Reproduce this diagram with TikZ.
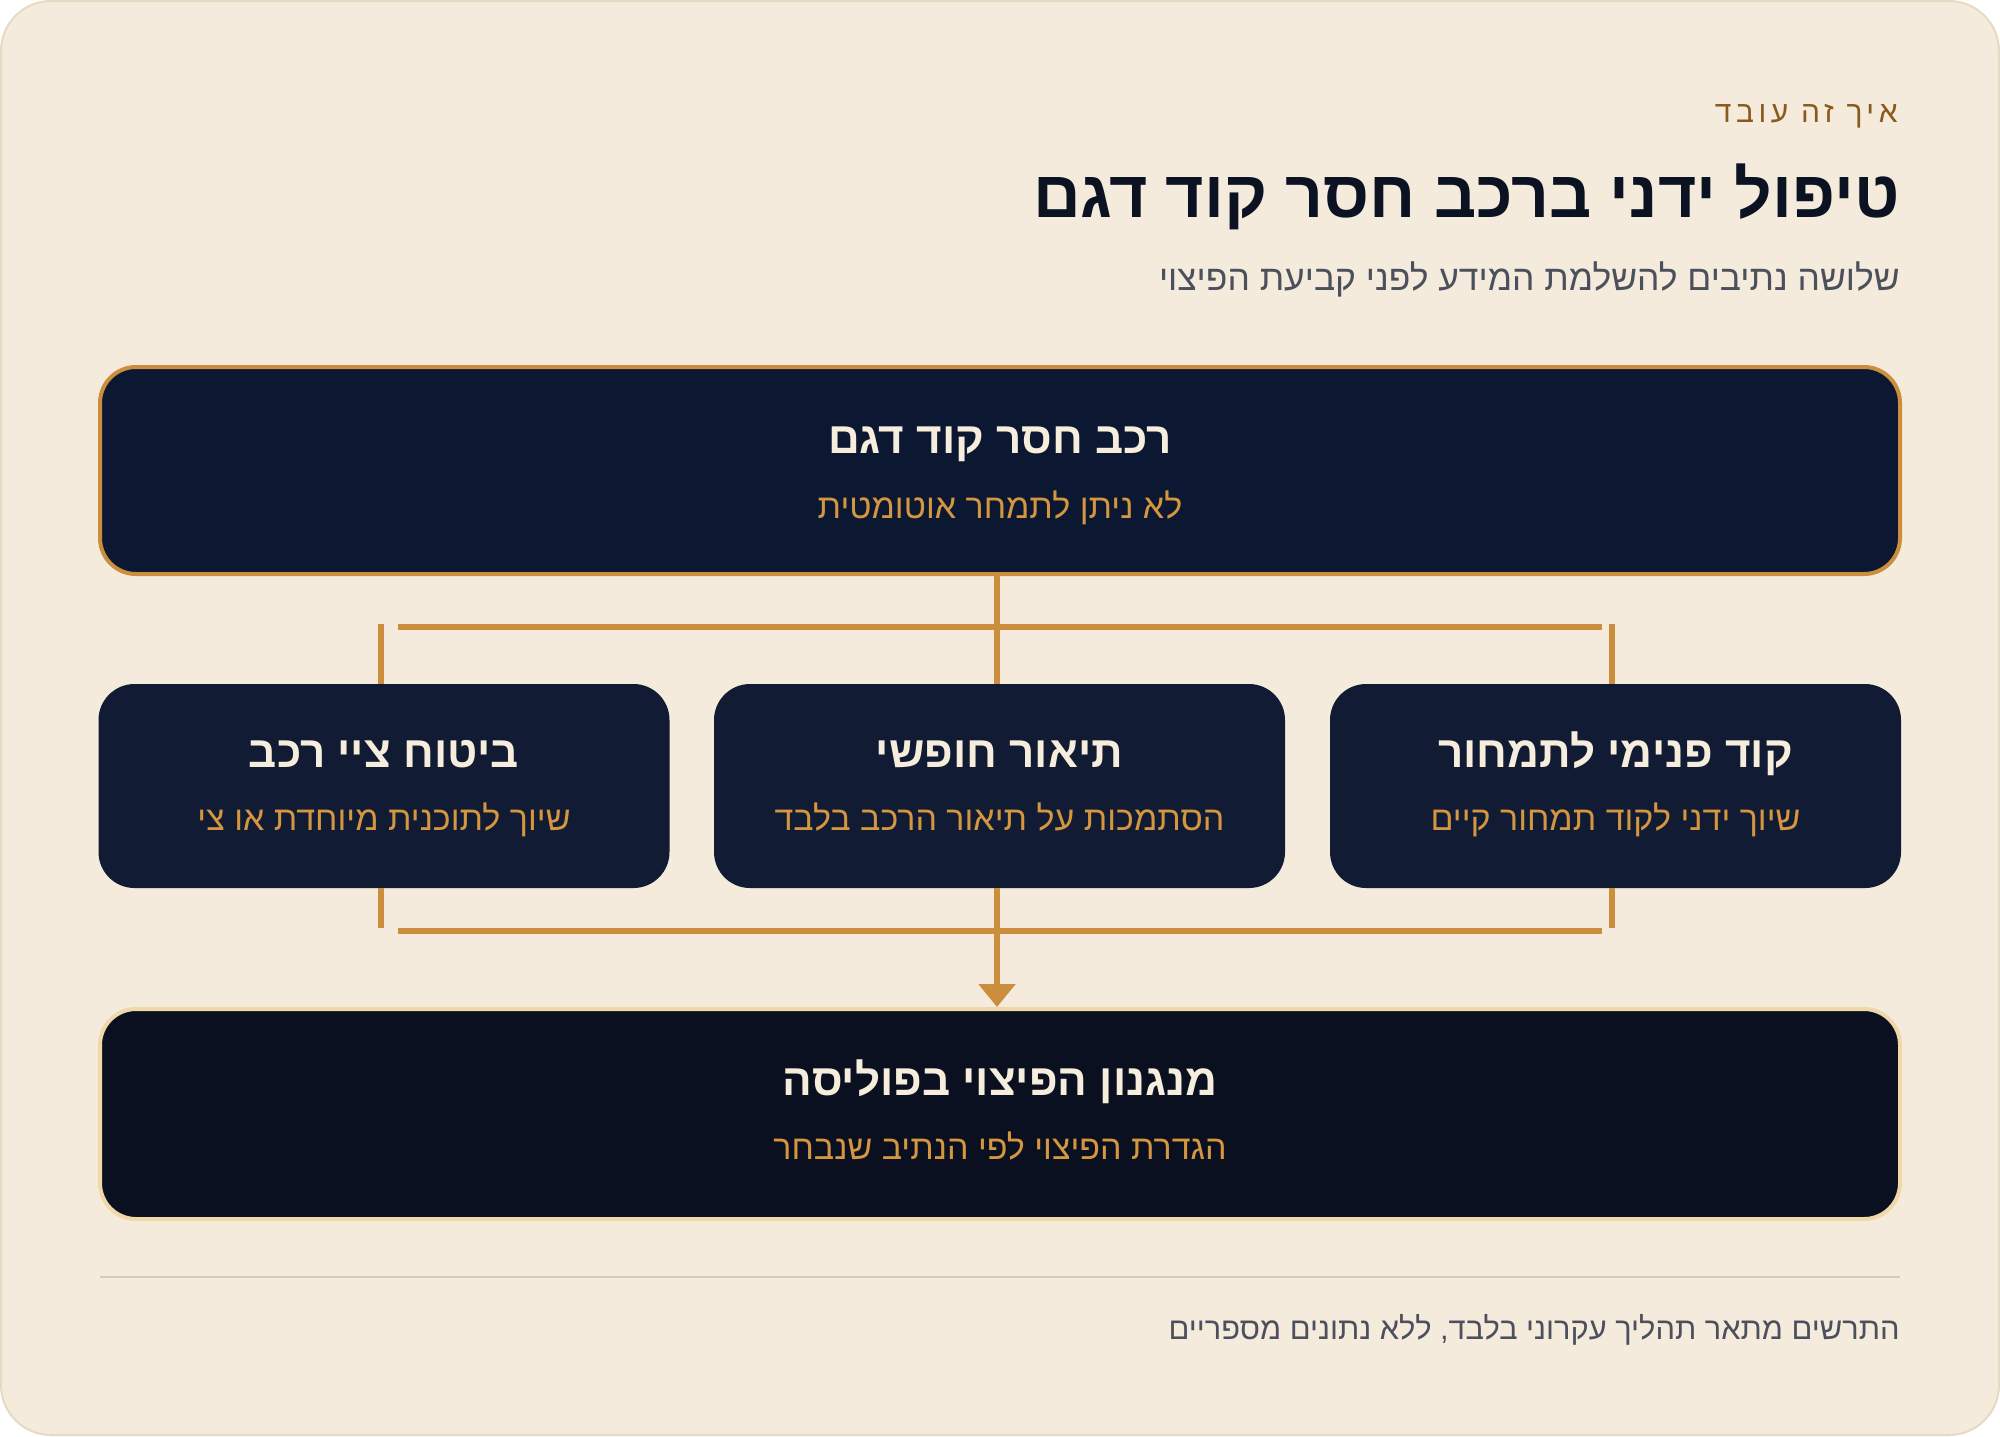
\documentclass[tikz,border=0pt]{standalone}
\usepackage{fontspec}
\setmainfont{Liberation Sans}
\newfontfamily\heb[Script=Hebrew]{Liberation Sans}
\newfontfamily\hebsp[Script=Hebrew,LetterSpace=15]{Liberation Sans}
\TeXXeTstate=1
\usetikzlibrary{arrows.meta}
\definecolor{cardbg}{HTML}{F4EBDC}
\definecolor{cardline}{HTML}{E6DAC3}
\definecolor{ink}{HTML}{0B1222}
\definecolor{eyebrow}{HTML}{8A5A1C}
\definecolor{muted}{HTML}{4B505C}
\definecolor{topfill}{HTML}{0C1731}
\definecolor{midfill}{HTML}{111B33}
\definecolor{botfill}{HTML}{0A1020}
\definecolor{goldline}{HTML}{CB8E3C}
\definecolor{paleline}{HTML}{F0D8A8}
\definecolor{cream}{HTML}{F6EDDC}
\definecolor{goldtext}{HTML}{D4963F}
\definecolor{sepline}{HTML}{D5CCBE}
\tikzset{
  boxbase/.style={inner sep=0pt, rounded corners=18pt},
  topbox/.style={boxbase, fill=topfill, draw=goldline, line width=2pt, minimum width=900pt, minimum height=103.5pt},
  midbox/.style={boxbase, fill=midfill, minimum width=285.5pt, minimum height=102pt},
  botbox/.style={boxbase, fill=botfill, draw=paleline, line width=2pt, minimum width=900pt, minimum height=105pt},
  boxtitle/.style={anchor=base, inner sep=0pt, text=cream, font=\heb\bfseries\fontsize{22}{26}\selectfont},
  boxsub/.style={anchor=base, inner sep=0pt, text=goldtext, font=\heb\fontsize{17}{21}\selectfont},
  conn/.style={draw=goldline, line width=2.8pt},
  rtext/.style={anchor=base east, inner sep=0pt}
}
\begin{document}
\begin{tikzpicture}[x=0.5pt,y=-0.5pt]
\useasboundingbox (0,0) rectangle (2000,1436);
\fill[cardbg, draw=cardline, line width=1pt, rounded corners=25pt] (1,1) rectangle (1999,1435);

% header
\node[rtext, text=eyebrow, font=\hebsp\fontsize{15}{17}\selectfont] (eyebrowtxt) at (1898,122) {\beginR איך זה עובד\endR};
\node[rtext, text=ink, font=\heb\bfseries\fontsize{33}{38}\selectfont] (title) at (1900,217) {\beginR טיפול ידני ברכב חסר קוד דגם\endR};
\node[rtext, text=muted, font=\heb\fontsize{17.7}{22}\selectfont] (subtitle) at (1900,290) {\beginR שלושה נתיבים להשלמת המידע לפני קביעת הפיצוי\endR};

% boxes
\node[topbox] (top) at (1000,470.5) {};
\node[boxtitle] (toptitle) at (1000,453) {\beginR רכב חסר קוד דגם\endR};
\node[boxsub] (topsub) at (1000,518) {\beginR לא ניתן לתמחר אוטומטית\endR};

\node[midbox] (b1) at (384,786) {};
\node[midbox] (b2) at (999.5,786) {};
\node[midbox] (b3) at (1615.5,786) {};
\node[boxtitle] (b1t) at (384,767) {\beginR ביטוח ציי רכב\endR};
\node[boxsub] (b1s) at (384,830) {\beginR שיוך לתוכנית מיוחדת או צי\endR};
\node[boxtitle] (b2t) at (999.5,767) {\beginR תיאור חופשי\endR};
\node[boxsub] (b2s) at (999.5,830) {\beginR הסתמכות על תיאור הרכב בלבד\endR};
\node[boxtitle] (b3t) at (1615.5,767) {\beginR קוד פנימי לתמחור\endR};
\node[boxsub] (b3s) at (1615.5,830) {\beginR שיוך ידני לקוד תמחור קיים\endR};

\node[botbox] (bot) at (1000,1114) {};
\node[boxtitle] (bott) at (1000,1095) {\beginR מנגנון הפיצוי בפוליסה\endR};
\node[boxsub] (bots) at (1000,1159) {\beginR הגדרת הפיצוי לפי הנתיב שנבחר\endR};

% connectors
\coordinate (trunk) at (997,0);
\coordinate (lefttick) at (381,0);
\coordinate (righttick) at (1612,0);
\coordinate (hl1) at (398,627);
\coordinate (hr1) at (1602,627);
\coordinate (hl2) at (398,931);
\coordinate (hr2) at (1602,931);
\coordinate (tt1) at (381,624);
\coordinate (tt2) at (1612,624);
\coordinate (bt1) at (381,928);
\coordinate (bt2) at (1612,928);

\draw[conn] (top.south -| trunk) -- (b2.north -| trunk);
\draw[conn] (hl1) -- (hr1);
\draw[conn] (tt1) -- (b1.north -| lefttick);
\draw[conn] (tt2) -- (b3.north -| righttick);
\draw[conn] (b1.south -| lefttick) -- (bt1);
\draw[conn] (b3.south -| righttick) -- (bt2);
\draw[conn] (hl2) -- (hr2);
\draw[conn, -{Triangle[width=18pt,length=11.5pt]}] (b2.south -| trunk) -- (bot.north -| trunk);

% footer
\coordinate (sepl) at (100,1277);
\coordinate (sepr) at (1900,1277);
\draw[sepline, line width=1pt] (sepl) -- (sepr);
\node[rtext, text=muted, font=\heb\fontsize{15.4}{19}\selectfont] (footer) at (1900,1339) {\beginR התרשים מתאר תהליך עקרוני בלבד, ללא נתונים מספריים\endR};
\end{tikzpicture}
\end{document}
